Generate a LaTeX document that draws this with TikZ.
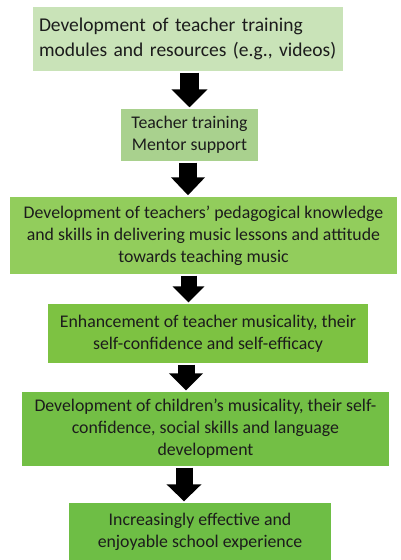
\documentclass[tikz,border=0pt]{standalone}
\usepackage{fontspec}
\setmainfont{Carlito}
\usetikzlibrary{arrows.meta}

\definecolor{stepA}{HTML}{C9E3B8}
\definecolor{stepB}{HTML}{A9D18E}
\definecolor{stepC}{HTML}{92CD5C}
\definecolor{stepD}{HTML}{7DC242}
\definecolor{stepE}{HTML}{73BF45}
\definecolor{stepF}{HTML}{6EBE45}
\definecolor{ink}{HTML}{1C1C1C}

\tikzset{
  stagebox/.style n args={3}{rectangle, fill=#1, draw=none, inner sep=0pt,
    minimum width=#2, minimum height=#3, text=ink, align=center,
    font=\fontsize{17.8}{22}\selectfont},
  blockarrow/.style n args={3}{draw=black, line width=#1,
    -{Triangle[width=#2,length=#3]}, shorten <=1.5pt, shorten >=1.5pt},
}

\begin{document}
\begin{tikzpicture}[x=1pt,y=-1pt]
  \useasboundingbox (0,0) rectangle (400,560);

  % stages of the pathway, top to bottom
  \node[stagebox={stepA}{310pt}{64pt}, align=left, inner xsep=6pt,
        text width=298pt, font=\fontsize{19.5}{25}\selectfont] (b1) at (188,39)
    {Development of teacher training\\modules and resources (e.g., videos)};
  \node[stagebox={stepB}{137pt}{52pt}] (b2) at (189.5,135)
    {Teacher training\\Mentor support};
  \node[stagebox={stepC}{387pt}{77pt}] (b3) at (203.5,235.5)
    {Development of teachers’ pedagogical knowledge\\and skills in delivering music lessons and attitude\\towards teaching music};
  \node[stagebox={stepD}{320pt}{59pt}] (b4) at (208,333.5)
    {Enhancement of teacher musicality, their\\self-confidence and self-efficacy};
  \node[stagebox={stepE}{367pt}{74pt}] (b5) at (205.5,429)
    {Development of children’s musicality, their self-\\confidence, social skills and language\\development};
  \node[stagebox={stepF}{262pt}{57pt}] (b6) at (200,531.5)
    {Increasingly effective and\\enjoyable school experience};

  % horizontal positions of the block arrows
  \coordinate (x1) at (189.5,0);
  \coordinate (x2) at (188,0);
  \coordinate (x3) at (188.5,0);
  \coordinate (x4) at (186,0);
  \coordinate (x5) at (184,0);

  % block arrows linking consecutive stages
  \draw[blockarrow={19pt}{35pt}{18pt}] (b1.south -| x1) -- (b2.north -| x1);
  \draw[blockarrow={18pt}{33pt}{18pt}] (b2.south -| x2) -- (b3.north -| x2);
  \draw[blockarrow={16pt}{31pt}{16pt}] (b3.south -| x3) -- (b4.north -| x3);
  \draw[blockarrow={17pt}{33pt}{17pt}] (b4.south -| x4) -- (b5.north -| x4);
  \draw[blockarrow={17pt}{34pt}{17pt}] (b5.south -| x5) -- (b6.north -| x5);
\end{tikzpicture}
\end{document}
